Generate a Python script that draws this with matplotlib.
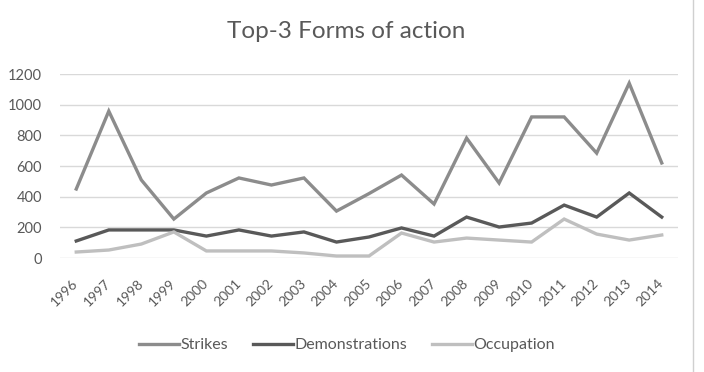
import matplotlib
matplotlib.use("Agg")
import matplotlib.pyplot as plt
from matplotlib.lines import Line2D

years = [str(y) for y in range(1996, 2015)]
strikes = [450, 958, 509, 254, 424, 522, 476, 522, 306, 420, 541, 352, 782, 489, 920, 920, 684, 1140, 620]
demonstrations = [111, 183, 183, 183, 143, 183, 143, 170, 104, 137, 196, 143, 267, 202, 228, 345, 267, 424, 267]
occupation = [39, 52, 91, 170, 46, 46, 46, 33, 13, 13, 163, 104, 130, 117, 104, 254, 156, 117, 150]
series_names = ["Strikes", "Demonstrations", "Occupation"]
colors = ["#8c8c8c", "#595959", "#bfbfbf"]
yticks = [0, 200, 400, 600, 800, 1000, 1200]

plt.rcParams['font.family'] = ['Lato', 'DejaVu Sans']
fig = plt.figure(figsize=(7.04, 3.72), dpi=100)
ax = fig.add_axes([60/704, 1-258/372, (678-60)/704, (258-74)/372])

x = list(range(len(years)))
for vals, name, c in zip([strikes, demonstrations, occupation], series_names, colors):
    ax.plot(x, vals, color=c, lw=2.4, label=name, solid_joinstyle='miter')

ax.set_xlim(-0.5, len(years) - 0.5)
ax.set_ylim(0, 1200)
ax.set_yticks(yticks)
ax.set_yticklabels([str(v) for v in yticks])
ax.set_xticks(x)
ax.set_xticklabels(years, rotation=45, ha='right', va='center', rotation_mode='anchor')
ax.grid(axis='y', color='#d9d9d9', lw=1)
ax.set_axisbelow(True)
for s in ax.spines.values():
    s.set_visible(False)
ax.tick_params(axis='both', length=0, colors='#595959')
ax.tick_params(axis='y', pad=13, labelsize=10.5)
ax.tick_params(axis='x', pad=17, labelsize=10)

fig.text(346/704, 1-32/372, "Top-3 Forms of action", ha='center', va='center',
         fontsize=17.5, color='#595959')

handles, labels = ax.get_legend_handles_labels()
fig.legend(handles, labels, loc='center', bbox_to_anchor=(347/704, 1-345/372), ncol=3,
           frameon=False, fontsize=11.5, handlelength=2.5, handletextpad=0.05,
           columnspacing=1.6, labelcolor='#595959')

fig.add_artist(Line2D([693/704, 693/704], [0, 1], transform=fig.transFigure,
                      color='#d0d0d0', lw=1))

fig.savefig("out.png", dpi=100)
